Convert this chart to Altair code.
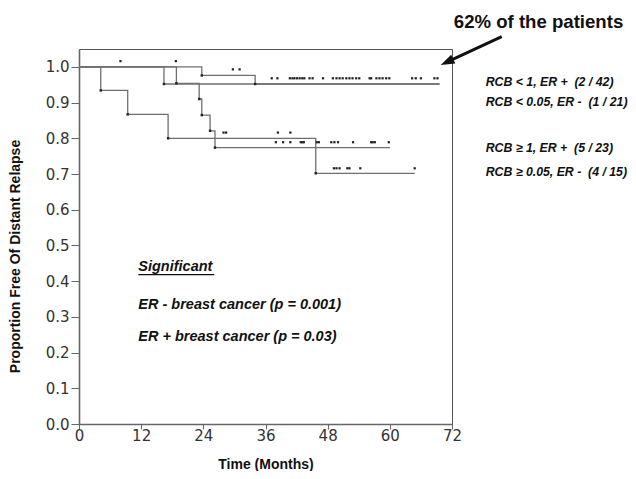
import altair as alt
import pandas as pd

# ---- Kaplan-Meier step curves (time in months, proportion free of relapse)
curve_names = ["RCB<1 ER+", "RCB<0.05 ER-", "RCB>=1 ER+", "RCB>=0.05 ER-"]
erpos_low_t = [0, 23.7, 34.0, 69.6]
erpos_low_s = [1.0, 0.976, 0.952, 0.952]
erneg_low_t = [0, 16.4, 69.6]
erneg_low_s = [1.0, 0.952, 0.952]
erpos_high_t = [0, 18.8, 23.2, 23.7, 25.3, 26.25, 60.0]
erpos_high_s = [1.0, 0.954, 0.910, 0.865, 0.821, 0.774, 0.774]
erneg_high_t = [0, 4.2, 9.4, 17.2, 45.7, 64.8]
erneg_high_s = [1.0, 0.934, 0.867, 0.800, 0.702, 0.702]

# ---- censor marks
censor_top_t = [8.0, 18.7]
censor_top_s = [1.016, 1.016]
censor_a_t = [29.7, 31.0]
censor_a_s = [0.993, 0.993]
censor_b_t = [37.2, 38.3, 40.7, 41.2, 41.6, 42.1, 42.6, 43.1, 43.5, 44.5, 45.1,
              47.1, 49.0, 49.7, 50.3, 50.9, 51.6, 52.2, 52.8, 53.5, 54.1, 56.1,
              56.4, 57.4, 58.0, 58.6, 59.3, 59.9, 64.3, 65.0, 66.0, 68.6, 69.2]
censor_c_t = [27.9, 28.4, 38.4, 40.8]
censor_d_t = [38.0, 39.4, 40.8, 42.8, 43.1, 43.4, 45.9, 46.3, 48.7, 49.3, 50.0,
              52.9, 56.4, 56.7, 57.1, 59.8]
censor_e_t = [49.2, 49.7, 50.3, 51.8, 52.2, 54.3, 64.8]
censor_b_s, censor_c_s, censor_d_s, censor_e_s = 0.968, 0.816, 0.789, 0.716

# ---- text
NB = "\u00a0"
legend_labels = ["RCB < 1, ER +" + NB * 2 + "(2 / 42)",
                 "RCB < 0.05, ER -" + NB * 2 + "(1 / 21)",
                 "RCB \u2265 1, ER +" + NB * 2 + "(5 / 23)",
                 "RCB \u2265 0.05, ER -" + NB * 2 + "(4 / 15)"]
legend_y = [0.958, 0.902, 0.772, 0.706]
legend_x = 78.5
note_labels = ["Significant", "ER - breast cancer (p = 0.001)",
               "ER + breast cancer (p = 0.03)"]
note_y = [0.440, 0.333, 0.243]
note_x = 11.45
underline = {"x": 11.45, "x2": 26.1, "y": 0.418}
callout = "62% of the patients"
callout_pos = {"x": 88.7, "y": 1.127}
arrow = {"x": 81.6, "y": 1.0845, "x2": 71.2, "y2": 1.0145}

x_ticks = [0, 12, 24, 36, 48, 60, 72]
y_ticks = [0.0, 0.1, 0.2, 0.3, 0.4, 0.5, 0.6, 0.7, 0.8, 0.9, 1.0]

# ---- tables
curves = [(erpos_low_t, erpos_low_s), (erneg_low_t, erneg_low_s),
          (erpos_high_t, erpos_high_s), (erneg_high_t, erneg_high_s)]
rows, events = [], []
for name, (ts, ss) in zip(curve_names, curves):
    for i, (t, s) in enumerate(zip(ts, ss)):
        rows.append({"t": t, "s": s, "g": name})
        if 0 < i < len(ts) - 1:
            events.append({"t": t, "s": s})
line_df = pd.DataFrame(rows)
event_df = pd.DataFrame(events)

cens = []
for t, s in zip(censor_top_t, censor_top_s):
    cens.append({"t": t, "s": s})
for t, s in zip(censor_a_t, censor_a_s):
    cens.append({"t": t, "s": s})
for lst, s in [(censor_b_t, censor_b_s), (censor_c_t, censor_c_s),
               (censor_d_t, censor_d_s), (censor_e_t, censor_e_s)]:
    for t in lst:
        cens.append({"t": t, "s": s})
cens_df = pd.DataFrame(cens)

xs = alt.Scale(domain=[0, 72], nice=False)
ys = alt.Scale(domain=[0, 1.05], nice=False)

x_axis = alt.Axis(
    values=x_ticks, title="Time (Months)", grid=False, format="d",
    labelFlush=False, labelOverlap=False, tickSize=5, labelPadding=-1,
    titleX=186.5, titleY=44, titleBaseline="alphabetic", titleAlign="center")
y_axis = alt.Axis(
    values=y_ticks, format=".1f", title="Proportion Free Of Distant Relapse",
    grid=False, labelOverlap=False, labelFlush=False, tickSize=8, labelPadding=2,
    titleX=-59.5, titleY=207, titleBaseline="alphabetic",
    titleAlign="center", titleAngle=270)


def X(field):
    return alt.X(field, scale=xs, axis=x_axis)


def Y(field):
    return alt.Y(field, scale=ys, axis=y_axis)


lines = alt.Chart(line_df).mark_line(
    interpolate="step-after", color="#6f6f6f", strokeWidth=1.3
).encode(x=X("t:Q"), y=Y("s:Q"), detail="g:N")

ev = alt.Chart(event_df).mark_square(size=6, color="#222", opacity=1).encode(
    x=X("t:Q"), y=Y("s:Q"))
cm = alt.Chart(cens_df).mark_square(size=5, color="#222", opacity=1).encode(
    x=X("t:Q"), y=Y("s:Q"))

leg_df = pd.DataFrame({"t": [legend_x] * 4, "s": legend_y, "label": legend_labels})
leg = alt.Chart(leg_df).mark_text(
    align="left", baseline="middle", font="Liberation Sans", fontSize=12.3,
    fontWeight="bold", fontStyle="italic", color="#111"
).encode(x=X("t:Q"), y=Y("s:Q"), text="label:N")

note_df = pd.DataFrame({"t": [note_x] * 3, "s": note_y, "label": note_labels})
notes = alt.Chart(note_df).mark_text(
    align="left", baseline="middle", font="Liberation Sans", fontSize=14.5,
    fontWeight="bold", fontStyle="italic", color="#111"
).encode(x=X("t:Q"), y=Y("s:Q"), text="label:N")

ul = alt.Chart(pd.DataFrame([underline])).mark_rule(color="#111", strokeWidth=1.2).encode(
    x=X("x:Q"), x2="x2:Q", y=Y("y:Q"))

call_df = pd.DataFrame([{"t": callout_pos["x"], "s": callout_pos["y"], "label": callout}])
call = alt.Chart(call_df).mark_text(
    align="center", baseline="middle", font="Liberation Sans", fontSize=18.6,
    fontWeight="bold", color="#111"
).encode(x=X("t:Q"), y=Y("s:Q"), text="label:N")

shaft = alt.Chart(pd.DataFrame([arrow])).mark_rule(color="#111", strokeWidth=3).encode(
    x=X("x:Q"), y=Y("y:Q"), x2="x2:Q", y2="y2:Q")
head = alt.Chart(pd.DataFrame([{"t": arrow["x2"], "s": arrow["y2"]}])).mark_point(
    shape="M0,-1L0.62,0.75L-0.62,0.75Z", filled=True, size=250, angle=245,
    color="#111", opacity=1
).encode(x=X("t:Q"), y=Y("s:Q"))

chart = alt.layer(lines, ev, cm, leg, notes, ul, call, shaft, head).properties(
    width=373, height=375,
    autosize=alt.AutoSizeParams(type="none"),
    padding={"left": 71, "top": 41, "right": 176, "bottom": 47},
).configure_view(stroke="#555", strokeWidth=1).configure_axis(
    domainColor="#666", domainWidth=1.6, tickColor="#666",
    labelFont="DejaVu Sans", labelFontSize=15, labelColor="#333",
    titleFont="Liberation Sans", titleFontSize=14,
    titleFontWeight="bold", titleColor="#111"
)

chart.save("out.html", embed_options={"renderer": "svg", "actions": False})
